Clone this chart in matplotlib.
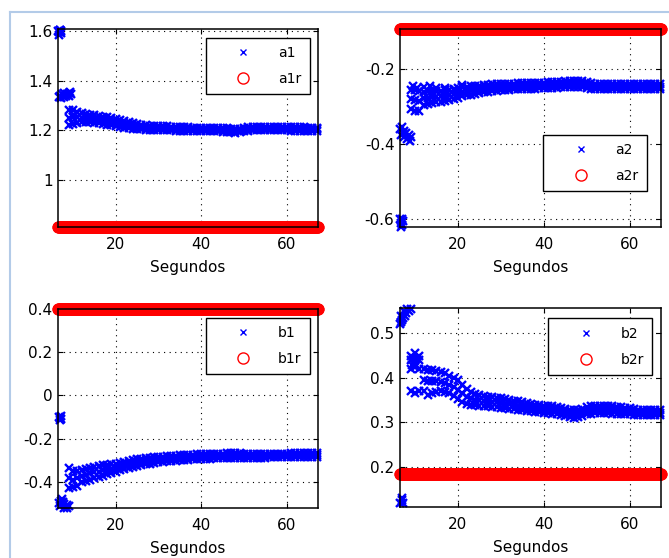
import numpy as np
import matplotlib
matplotlib.use('Agg')
import matplotlib.pyplot as plt
from matplotlib.lines import Line2D

plt.rcParams['font.family'] = ['DejaVu Sans']

# sample clock of the logged run (s)
t_clock = np.arange(6.5, 67.35, 0.1)
t_band = list(range(9, 68))

# reference (constant) parameters
a1r = 0.81
a2r = -0.092
b1r = 0.40
b2r = 0.184

# ---- a1 estimates ----
a1_early_t = [6.6, 6.8, 7.0, 7.2, 6.7, 7.1, 6.9,
              7.0, 7.5, 8.0, 8.5, 9.0, 9.4, 7.2, 7.8, 8.4, 9.0, 6.8, 9.6]
a1_early_v = [1.600, 1.595, 1.605, 1.590, 1.585, 1.600, 1.603,
              1.340, 1.345, 1.350, 1.345, 1.350, 1.355, 1.330, 1.335, 1.338, 1.340, 1.335, 1.345]
a1_hi = [1.280, 1.280, 1.275, 1.270, 1.266, 1.263, 1.260, 1.258, 1.255, 1.252,
         1.250, 1.245, 1.240, 1.236, 1.232, 1.228, 1.225, 1.222, 1.220, 1.219,
         1.218, 1.217, 1.217, 1.216, 1.215, 1.214, 1.213, 1.212, 1.212, 1.211,
         1.211, 1.210, 1.210, 1.210, 1.210, 1.210, 1.209, 1.208, 1.206, 1.206,
         1.207, 1.210, 1.213, 1.215, 1.215, 1.215, 1.215, 1.215, 1.215, 1.214,
         1.214, 1.214, 1.213, 1.212, 1.212, 1.212, 1.211, 1.211, 1.211]
a1_mid = [1.250, 1.252, 1.252, 1.251, 1.249, 1.247, 1.245, 1.243, 1.240, 1.237,
          1.235, 1.230, 1.226, 1.223, 1.220, 1.217, 1.215, 1.212, 1.211, 1.210,
          1.209, 1.208, 1.208, 1.207, 1.207, 1.206, 1.205, 1.204, 1.204, 1.203,
          1.203, 1.203, 1.202, 1.202, 1.202, 1.202, 1.201, 1.200, 1.198, 1.198,
          1.199, 1.202, 1.205, 1.207, 1.207, 1.207, 1.207, 1.207, 1.207, 1.207,
          1.206, 1.206, 1.205, 1.205, 1.204, 1.204, 1.204, 1.204, 1.204]
a1_lo = [1.220, 1.225, 1.228, 1.232, 1.232, 1.232, 1.230, 1.228, 1.225, 1.222,
         1.220, 1.216, 1.213, 1.210, 1.208, 1.206, 1.205, 1.203, 1.202, 1.202,
         1.200, 1.200, 1.200, 1.199, 1.199, 1.198, 1.197, 1.196, 1.196, 1.196,
         1.196, 1.196, 1.195, 1.195, 1.195, 1.195, 1.194, 1.193, 1.191, 1.190,
         1.192, 1.195, 1.198, 1.200, 1.200, 1.200, 1.200, 1.200, 1.200, 1.200,
         1.199, 1.199, 1.198, 1.198, 1.197, 1.197, 1.197, 1.197, 1.197]

# ---- a2 estimates ----
a2_early_t = [6.6, 6.8, 7.0, 7.2, 6.7, 7.0,
              6.6, 7.0, 7.5, 8.0, 8.5, 9.0, 6.8, 7.4, 8.2, 8.8, 7.2,
              9.5, 10.5, 12.0, 13.5, 15.0, 17.0, 19.0, 21.0]
a2_early_v = [-0.600, -0.610, -0.615, -0.605, -0.620, -0.600,
              -0.360, -0.355, -0.365, -0.370, -0.375, -0.380, -0.375, -0.380, -0.385, -0.390, -0.370,
              -0.245, -0.250, -0.248, -0.245, -0.250, -0.250, -0.255, -0.242]
a2_hi = [-0.255, -0.255, -0.258, -0.260, -0.258, -0.258, -0.258, -0.257, -0.256, -0.255,
         -0.253, -0.250, -0.248, -0.246, -0.245, -0.244, -0.243, -0.242, -0.241, -0.240,
         -0.240, -0.239, -0.239, -0.238, -0.238, -0.237, -0.237, -0.236, -0.236, -0.235,
         -0.235, -0.235, -0.234, -0.234, -0.233, -0.233, -0.232, -0.231, -0.230, -0.230,
         -0.231, -0.233, -0.236, -0.238, -0.239, -0.239, -0.239, -0.239, -0.239, -0.240,
         -0.240, -0.240, -0.240, -0.240, -0.240, -0.240, -0.240, -0.240, -0.240]
a2_mid = [-0.280, -0.283, -0.284, -0.277, -0.275, -0.274, -0.273, -0.272, -0.270, -0.268,
          -0.266, -0.262, -0.260, -0.258, -0.256, -0.254, -0.253, -0.252, -0.250, -0.249,
          -0.248, -0.247, -0.247, -0.246, -0.245, -0.245, -0.244, -0.244, -0.243, -0.243,
          -0.242, -0.242, -0.242, -0.241, -0.241, -0.240, -0.240, -0.239, -0.238, -0.238,
          -0.239, -0.241, -0.243, -0.245, -0.246, -0.246, -0.246, -0.246, -0.246, -0.246,
          -0.246, -0.246, -0.246, -0.246, -0.246, -0.246, -0.246, -0.246, -0.246]
a2_lo = [-0.305, -0.310, -0.310, -0.295, -0.292, -0.290, -0.288, -0.286, -0.284, -0.282,
         -0.280, -0.275, -0.272, -0.269, -0.267, -0.265, -0.263, -0.261, -0.260, -0.258,
         -0.257, -0.256, -0.255, -0.254, -0.253, -0.253, -0.252, -0.252, -0.251, -0.251,
         -0.250, -0.250, -0.250, -0.249, -0.249, -0.248, -0.248, -0.247, -0.246, -0.246,
         -0.247, -0.249, -0.251, -0.253, -0.253, -0.253, -0.253, -0.253, -0.253, -0.253,
         -0.253, -0.253, -0.252, -0.252, -0.252, -0.252, -0.252, -0.252, -0.252]

# ---- b1 estimates ----
b1_early_t = [6.7, 7.0, 7.2, 6.9, 7.1,
              6.8, 7.2, 7.6, 8.0, 8.5, 9.0, 7.0, 7.8, 8.6, 7.4]
b1_early_v = [-0.100, -0.105, -0.095, -0.115, -0.110,
              -0.500, -0.490, -0.495, -0.505, -0.510, -0.515, -0.515, -0.520, -0.520, -0.480]
b1_hi = [-0.335, -0.350, -0.350, -0.345, -0.340, -0.335, -0.330, -0.328, -0.325, -0.322,
         -0.320, -0.316, -0.312, -0.308, -0.304, -0.300, -0.297, -0.294, -0.291, -0.289,
         -0.287, -0.285, -0.284, -0.282, -0.281, -0.280, -0.278, -0.277, -0.276, -0.275,
         -0.274, -0.273, -0.272, -0.272, -0.271, -0.270, -0.270, -0.269, -0.268, -0.268,
         -0.268, -0.270, -0.271, -0.272, -0.272, -0.272, -0.271, -0.271, -0.270, -0.270,
         -0.270, -0.270, -0.269, -0.269, -0.269, -0.268, -0.268, -0.268, -0.268]
b1_mid = [-0.385, -0.390, -0.385, -0.372, -0.368, -0.362, -0.357, -0.353, -0.348, -0.344,
          -0.340, -0.335, -0.330, -0.325, -0.320, -0.316, -0.312, -0.309, -0.305, -0.302,
          -0.300, -0.297, -0.296, -0.294, -0.292, -0.291, -0.289, -0.288, -0.287, -0.286,
          -0.285, -0.284, -0.283, -0.282, -0.281, -0.280, -0.280, -0.279, -0.278, -0.278,
          -0.278, -0.279, -0.280, -0.280, -0.280, -0.280, -0.279, -0.279, -0.278, -0.278,
          -0.278, -0.278, -0.277, -0.277, -0.277, -0.276, -0.276, -0.276, -0.276]
b1_lo = [-0.430, -0.425, -0.420, -0.400, -0.395, -0.390, -0.385, -0.378, -0.372, -0.366,
         -0.360, -0.355, -0.348, -0.342, -0.336, -0.332, -0.328, -0.324, -0.320, -0.316,
         -0.313, -0.310, -0.308, -0.306, -0.304, -0.302, -0.300, -0.299, -0.298, -0.297,
         -0.296, -0.295, -0.294, -0.293, -0.292, -0.291, -0.290, -0.289, -0.288, -0.288,
         -0.288, -0.289, -0.289, -0.289, -0.288, -0.288, -0.288, -0.287, -0.287, -0.286,
         -0.286, -0.286, -0.285, -0.285, -0.285, -0.284, -0.284, -0.284, -0.284]

# ---- b2 estimates ----
b2_early_t = [6.6, 6.9, 7.2, 7.6, 8.0, 8.5, 9.0, 6.8, 7.4, 8.2, 6.7,
              6.6, 6.9, 7.2, 7.0,
              9.0, 9.5, 10.0, 10.5, 11.0, 9.3, 10.3]
b2_early_v = [0.520, 0.530, 0.535, 0.540, 0.545, 0.550, 0.555, 0.540, 0.550, 0.555, 0.525,
              0.120, 0.125, 0.118, 0.130,
              0.440, 0.445, 0.440, 0.445, 0.440, 0.430, 0.430]
b2_hi = [0.450, 0.455, 0.450, 0.420, 0.418, 0.417, 0.415, 0.413, 0.410, 0.405,
         0.400, 0.395, 0.385, 0.375, 0.368, 0.364, 0.362, 0.360, 0.358, 0.356,
         0.355, 0.354, 0.353, 0.351, 0.349, 0.347, 0.345, 0.343, 0.341, 0.340,
         0.339, 0.338, 0.337, 0.336, 0.335, 0.333, 0.331, 0.329, 0.327, 0.328,
         0.331, 0.334, 0.336, 0.337, 0.338, 0.338, 0.337, 0.336, 0.335, 0.334,
         0.333, 0.332, 0.330, 0.329, 0.328, 0.328, 0.328, 0.328, 0.328]
b2_mid = [0.420, 0.425, 0.420, 0.395, 0.392, 0.392, 0.392, 0.391, 0.389, 0.385,
          0.380, 0.373, 0.365, 0.358, 0.354, 0.351, 0.350, 0.348, 0.347, 0.346,
          0.345, 0.343, 0.342, 0.341, 0.339, 0.337, 0.336, 0.334, 0.333, 0.332,
          0.331, 0.330, 0.329, 0.328, 0.327, 0.325, 0.323, 0.321, 0.319, 0.320,
          0.323, 0.326, 0.328, 0.329, 0.330, 0.330, 0.329, 0.328, 0.327, 0.326,
          0.325, 0.325, 0.323, 0.323, 0.322, 0.322, 0.322, 0.322, 0.322]
b2_lo = [0.370, 0.365, 0.370, 0.370, 0.362, 0.365, 0.368, 0.370, 0.368, 0.365,
         0.360, 0.352, 0.345, 0.342, 0.340, 0.339, 0.338, 0.337, 0.336, 0.335,
         0.334, 0.333, 0.332, 0.331, 0.330, 0.328, 0.327, 0.326, 0.325, 0.324,
         0.323, 0.322, 0.321, 0.320, 0.319, 0.317, 0.315, 0.313, 0.311, 0.312,
         0.315, 0.318, 0.320, 0.321, 0.322, 0.322, 0.321, 0.320, 0.320, 0.319,
         0.318, 0.318, 0.317, 0.317, 0.316, 0.316, 0.316, 0.316, 0.316]

panels = [
    ('a1', a1r, a1_early_t, a1_early_v, a1_hi, a1_mid, a1_lo,
     (0.81, 1.608), [1, 1.2, 1.4, 1.6], ['1', '1.2', '1.4', '1.6'], (0.569, 0.955)),
    ('a2', a2r, a2_early_t, a2_early_v, a2_hi, a2_mid, a2_lo,
     (-0.621, -0.092), [-0.6, -0.4, -0.2], ['-0.6', '-0.4', '-0.2'], (0.548, 0.465)),
    ('b1', b1r, b1_early_t, b1_early_v, b1_hi, b1_mid, b1_lo,
     (-0.522, 0.40), [-0.4, -0.2, 0, 0.2, 0.4], ['-0.4', '-0.2', '0', '0.2', '0.4'], (0.569, 0.956)),
    ('b2', b2r, b2_early_t, b2_early_v, b2_hi, b2_mid, b2_lo,
     (0.11, 0.557), [0.2, 0.3, 0.4, 0.5], ['0.2', '0.3', '0.4', '0.5'], (0.568, 0.948)),
]

positions = [
    [0.0867, 0.5932, 0.3886, 0.3548],
    [0.5979, 0.5932, 0.3901, 0.3548],
    [0.0867, 0.0896, 0.3886, 0.3566],
    [0.5979, 0.0914, 0.3901, 0.3566],
]

fig = plt.figure(figsize=(6.69, 5.58), dpi=100)
fig.patch.set_facecolor('white')

# window frame lines
frame_col = '#b3cbe8'
fig.add_artist(Line2D([10 / 669, 1], [1 - 12 / 558, 1 - 12 / 558], color=frame_col, lw=1.5))
fig.add_artist(Line2D([10 / 669, 10 / 669], [0, 1 - 12 / 558], color=frame_col, lw=1.5))

for (name, ref, et, ev, hi, mid, lo, ylim, yt, ytl, lpos), pos in zip(panels, positions):
    ax = fig.add_axes(pos)
    blue_kw = dict(linestyle='none', marker='x', color='b', markersize=5.5, mew=1.7, clip_on=False)
    ax.plot(t_band, hi, **blue_kw)
    ax.plot(t_band, mid, **blue_kw)
    ax.plot(t_band, lo, **blue_kw)
    ax.plot(et, ev, **blue_kw)
    ax.plot(t_clock, np.full(len(t_clock), ref), linestyle='none', marker='o',
            markerfacecolor='none', markeredgecolor='r', markersize=7.5, mew=1.2, clip_on=False)

    h1 = Line2D([], [], linestyle='none', marker='x', color='b', markersize=5, mew=1.0)
    h2 = Line2D([], [], linestyle='none', marker='o', markerfacecolor='none',
                markeredgecolor='r', markersize=8, mew=1.0)
    leg = ax.legend([h1, h2], [name, name + 'r'], loc='upper left', bbox_to_anchor=lpos,
                    fontsize=10, frameon=True, fancybox=False, framealpha=1,
                    edgecolor='k', borderpad=0.6, handlelength=4.2, handletextpad=0.4,
                    labelspacing=0.85, borderaxespad=0)
    leg.get_frame().set_linewidth(1.0)

    ax.set_xlim(6.5, 67.3)
    ax.set_ylim(*ylim)
    ax.set_xticks([20, 40, 60])
    ax.set_yticks(yt)
    ax.set_yticklabels(ytl)
    ax.grid(True, color='k', linestyle=(0, (1, 4)), linewidth=0.8)
    ax.tick_params(direction='in', length=3.5, width=0.8, top=True, right=True,
                   labelsize=11, pad=4)
    ax.tick_params(axis='x', pad=7)
    for sp in ax.spines.values():
        sp.set_linewidth(1.1)
        sp.set_zorder(5)
    ax.set_xlabel('Segundos', fontsize=11, labelpad=6)

plt.savefig('out.png', dpi=100)
